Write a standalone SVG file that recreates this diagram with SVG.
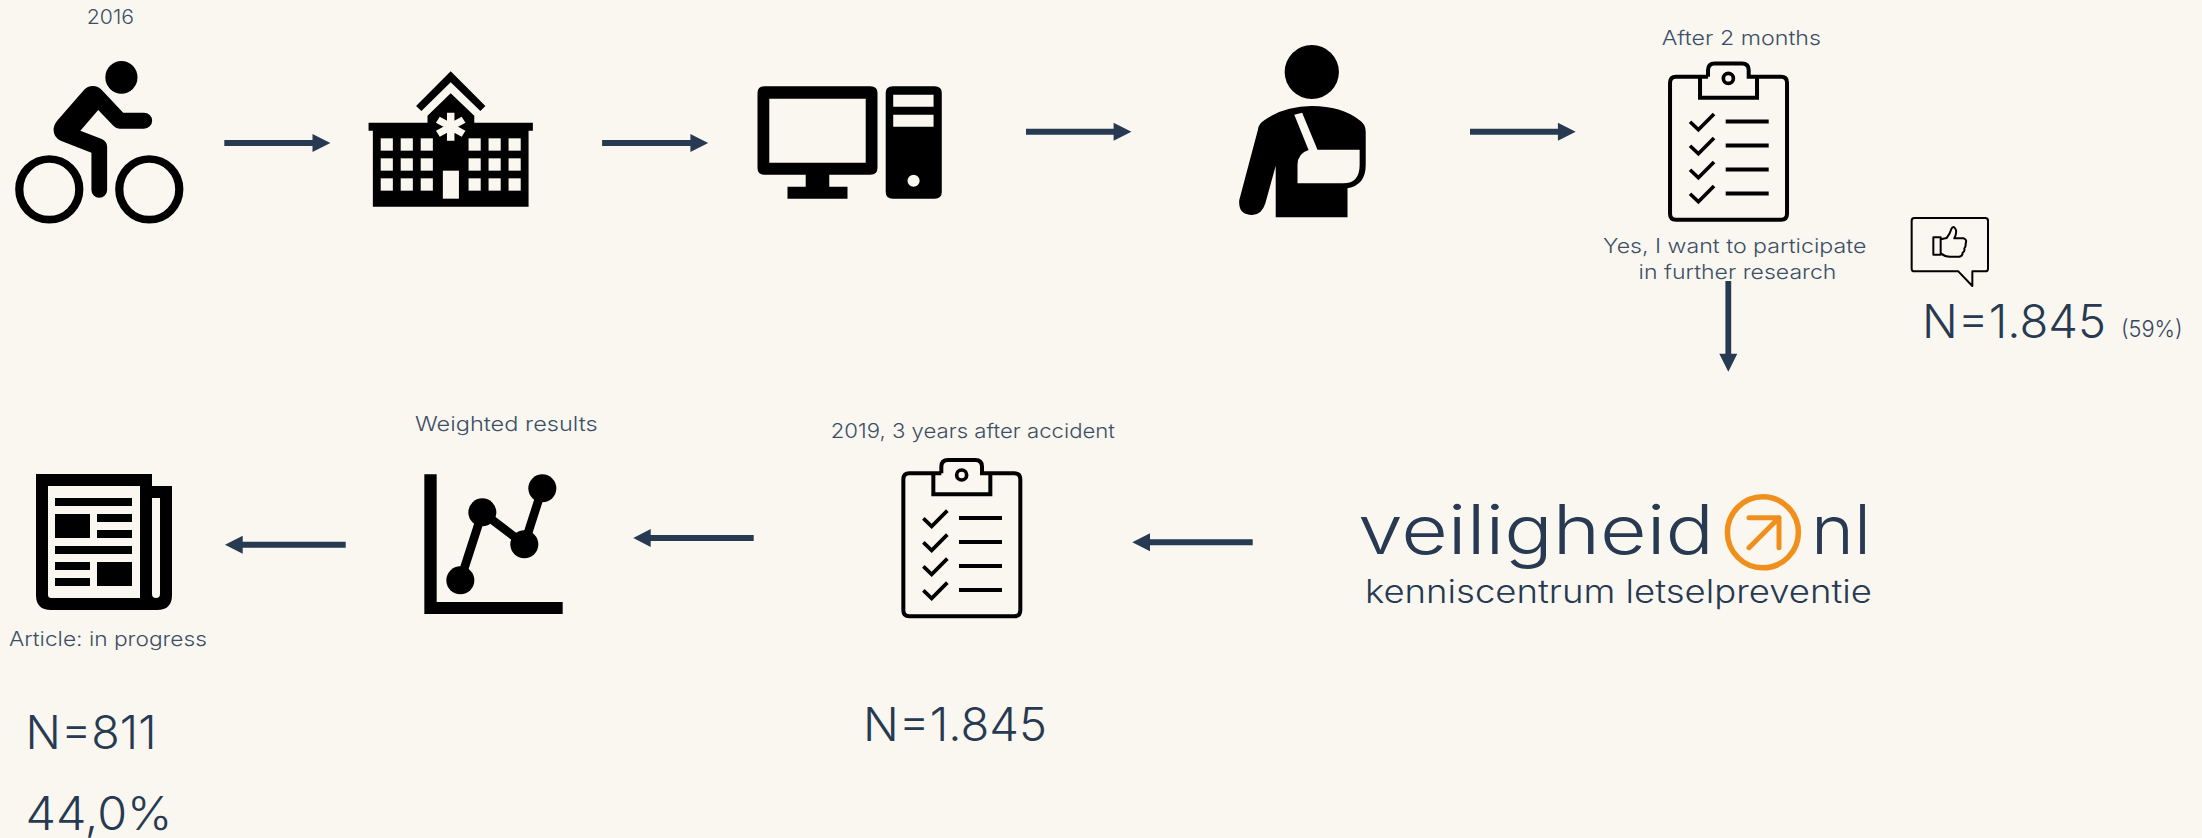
<svg xmlns="http://www.w3.org/2000/svg" width="2202" height="838" viewBox="0 0 2202 838">
<style>
text{font-family:"Inter","Liberation Sans",sans-serif;fill:#34475f;font-weight:300}
.s{font-size:20px;font-weight:350;fill:#3d4f67}
.b{font-size:46px;fill:#273a52}
.l{fill:#273a52;font-weight:350}
.c{fill:#273a52}
.ico{fill:#000}
.bg{fill:#faf7f0}
</style>
<defs>
<g id="clip">
<path fill="none" stroke="#000" stroke-width="12" d="M424,220H328Q310,220 310,238V631Q310,649 328,649H643Q661,649 661,631V238Q661,220 643,220H546V200Q546,180 526,180H444Q424,180 424,200V220M400,220V283H571V220"/>
<circle cx="485" cy="225" r="15" fill="none" stroke="#000" stroke-width="11"/>
<path fill="none" stroke="#000" stroke-width="11" d="M370,355L395,379L442,332M370,427L395,451L442,404M370,499L395,523L442,476M370,571L395,595L442,548"/>
<path fill="none" stroke="#000" stroke-width="12" d="M477,354H606M477,426H606M477,498H606M477,570H606"/>
</g>
</defs>
<rect width="2202" height="838" class="bg"/>

<g id="connectors" class="c">
<path d="M224.300,140H312.500V134L330.400,143L312.500,152V146H224.300Z"/>
<path d="M602.100,140H690.400V134L708.200,143L690.400,152V146H602.100Z"/>
<path d="M1026,128.700H1113.600V122.700L1131.400,131.700L1113.600,140.700V134.700H1026Z"/>
<path d="M1470,128.700H1557.900V122.700L1575.700,131.700L1557.900,140.700V134.700H1470Z"/>
<path d="M1725.400,281H1731.200V353.700H1737.300L1728.300,371.700L1719.300,353.700H1725.400Z"/>
<path d="M1252.700,539.300H1150V533.300L1132.300,542.300L1150,551.300V545.300H1252.700Z"/>
<path d="M753.700,535H650.700V529L633.300,538L650.700,547V541H753.700Z"/>
<path d="M345.700,541.700H242.700V535.700L225,544.700L242.700,553.700V547.700H345.700Z"/>
</g>

<g id="node-bike">
<text class="s" x="86.800" y="24" textLength="47.200" lengthAdjust="spacingAndGlyphs">2016</text>
<g transform="scale(.35714,.33333)">
<ellipse cx="340" cy="232" rx="45" ry="49" class="ico"/>
<ellipse cx="138" cy="568" rx="84" ry="91" fill="none" stroke="#000" stroke-width="23"/>
<ellipse cx="418" cy="568" rx="84" ry="91" fill="none" stroke="#000" stroke-width="23"/>
<path class="ico" d="M260,258Q275,258 285,270L345,338H403A23,24 0 0 1 403,386H335Q325,386 318,378L275,330L225,392L285,417Q300,425 300,440V570A22,23 0 0 1 256,570V458L170,422Q150,412 150,390Q150,375 160,362L235,270Q245,258 260,258Z"/>
</g>
</g>

<g id="node-hospital" transform="scale(.35714,.33333)">
<path class="ico" d="M1262,214L1359,318L1345,333L1262,247L1180,333L1165,318Z"/>
<path class="ico" d="M1262,280L1328,347V368H1492V392H1480V620H1044V392H1032V368H1197V347Z"/>
<g class="bg">
<rect x="1066" y="415" width="34" height="37"/><rect x="1122" y="415" width="34" height="37"/><rect x="1178" y="415" width="34" height="37"/>
<rect x="1066" y="475" width="34" height="37"/><rect x="1122" y="475" width="34" height="37"/><rect x="1178" y="475" width="34" height="37"/>
<rect x="1066" y="535" width="34" height="37"/><rect x="1122" y="535" width="34" height="37"/><rect x="1178" y="535" width="34" height="37"/>
<rect x="1312" y="415" width="34" height="37"/><rect x="1368" y="415" width="34" height="37"/><rect x="1424" y="415" width="34" height="37"/>
<rect x="1312" y="475" width="34" height="37"/><rect x="1368" y="475" width="34" height="37"/><rect x="1424" y="475" width="34" height="37"/>
<rect x="1312" y="535" width="34" height="37"/><rect x="1368" y="535" width="34" height="37"/><rect x="1424" y="535" width="34" height="37"/>
<rect x="1240" y="512" width="45" height="84"/>
</g>
<path fill="none" stroke="#faf7f0" stroke-width="21" d="M1262,338V422M1226,359L1298,401M1298,359L1226,401"/>
</g>

<g id="node-computer" transform="translate(560,0) scale(.35714,.33333)">
<path class="ico" fill-rule="evenodd" d="M573,259H869Q889,259 889,279V504Q889,524 869,524H754V560H805V596H637V560H688V524H573Q553,524 553,504V279Q553,259 573,259ZM586,296V488H856V296Z"/>
<path class="ico" fill-rule="evenodd" d="M932,259H1049Q1069,259 1069,279V576Q1069,596 1049,596H932Q912,596 912,576V279Q912,259 932,259ZM933,284V320H1046V284ZM933,344V380H1046V344ZM990,524A17,18 0 1 0 990,560A17,18 0 1 0 990,524Z"/>
</g>

<g id="node-injured" transform="translate(1120,0) scale(.35714,.33333)">
<ellipse cx="537" cy="216" rx="76" ry="81" class="ico"/>
<path class="ico" d="M537,318Q620,318 670,360Q688,372 688,395V495Q688,555 637,565V652H436V497L407,610Q397,645 370,645Q330,645 334,600L386,390Q388,370 405,360Q460,318 537,318Z"/>
<path class="bg" d="M488,344L510,338L553,449H671V495Q671,550 625,550H497V495Q497,460 528,450Z"/>
</g>

<g id="node-survey-1">
<text class="s" x="1661.700" y="45" textLength="159.300" lengthAdjust="spacingAndGlyphs">After 2 months</text>
<use href="#clip" transform="translate(1566.700,3.400) scale(.33333)"/>
<text class="s" x="1603" y="252.700" textLength="263.300" lengthAdjust="spacingAndGlyphs">Yes, I want to participate</text>
<text class="s" x="1638.600" y="278.700" textLength="197.800" lengthAdjust="spacingAndGlyphs">in further research</text>
</g>

<g id="node-thumb">
<g transform="translate(1900,210) scale(.33333)" fill="none" stroke="#000" stroke-width="6" stroke-linejoin="round">
<path d="M43,24H256Q264,24 264,32V176Q264,184 256,184H217V228L175,184H43Q35,184 35,176V32Q35,24 43,24Z"/>
<path d="M100,82H122V134H100Z"/>
<path d="M122,88L140,84Q150,72 155,55Q162,45 168,60Q170,72 163,85H190Q202,88 197,100Q198,110 193,115Q195,125 188,128Q188,138 178,140H150Q135,140 122,130"/>
</g>
<text class="b" x="1922" y="337.700" textLength="184" lengthAdjust="spacingAndGlyphs">N=1.845</text>
<text x="2121" y="337" font-size="23" textLength="61.600" lengthAdjust="spacingAndGlyphs">(59%)</text>
</g>

<g id="node-logo">
<text class="l" x="1358" y="554" font-size="68" textLength="356" lengthAdjust="spacingAndGlyphs">veiligheid</text>
<text class="l" x="1811" y="554" font-size="68" textLength="60" lengthAdjust="spacingAndGlyphs">nl</text>
<text class="l" x="1365" y="602.700" font-size="32" textLength="507" lengthAdjust="spacingAndGlyphs">kenniscentrum letselpreventie</text>
<circle cx="1762.900" cy="532.300" r="35.500" fill="none" stroke="#f18f1c" stroke-width="5.500"/>
<path d="M1749,517.700H1779V547.700M1779,517.700L1749,547.700" fill="none" stroke="#f18f1c" stroke-width="5" stroke-linecap="round" stroke-linejoin="round"/>
</g>

<g id="node-survey-2">
<text class="s" x="830.700" y="438.300" textLength="284.300" lengthAdjust="spacingAndGlyphs">2019, 3 years after accident</text>
<use href="#clip" transform="translate(800,400) scale(.33333)"/>
<text class="b" x="863" y="740.700" textLength="184" lengthAdjust="spacingAndGlyphs">N=1.845</text>
</g>

<g id="node-chart">
<text class="s" x="415" y="431" textLength="182.700" lengthAdjust="spacingAndGlyphs">Weighted results</text>
<g transform="translate(380,400) scale(.33333)">
<path class="ico" d="M133,223H170V606H548V642H133Z"/>
<path fill="none" stroke="#000" stroke-width="26" d="M241,541L307,337L433,433L487,265"/>
<circle cx="241" cy="541" r="42" class="ico"/><circle cx="307" cy="337" r="42" class="ico"/><circle cx="433" cy="433" r="42" class="ico"/><circle cx="487" cy="265" r="42" class="ico"/>
</g>
</g>

<g id="node-article">
<g transform="translate(0,450) scale(.33333)">
<path class="ico" fill-rule="evenodd" d="M108,72H456V108H516V435Q516,480 471,480H153Q108,480 108,435ZM144,108V434Q144,444 154,444H420V108ZM456,144V432A12,12 0 0 0 480,432V144Z"/>
<path class="ico" d="M165,144H396V168H165ZM165,192H270V264H165ZM291,192H396V216H291ZM291,240H396V264H291ZM165,288H396V312H165ZM165,336H270V360H165ZM165,384H270V408H165ZM291,336H396V408H291Z"/>
</g>
<text class="s" x="9" y="646" textLength="198" lengthAdjust="spacingAndGlyphs">Article: in progress</text>
<text class="b" x="25.500" y="749.300" textLength="131" lengthAdjust="spacingAndGlyphs">N=811</text>
<text class="b" x="25.500" y="830" textLength="147" lengthAdjust="spacingAndGlyphs">44,0%</text>
</g>
</svg>
